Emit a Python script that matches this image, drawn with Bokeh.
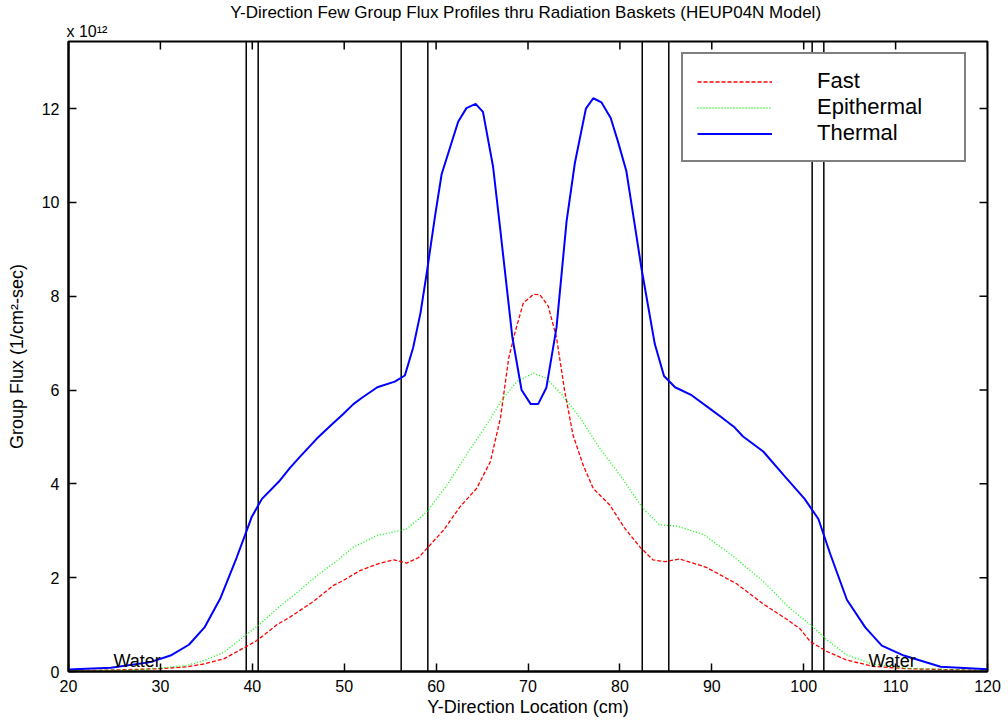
import math
from bokeh.plotting import figure
from bokeh.models import Legend, LegendItem, Label, Range1d, FixedTicker, Title
from bokeh.embed import file_html
from bokeh.resources import INLINE

# ---------------- data (flux in units of 1e12 1/cm^2-sec) ----------------
thermal_x = [20, 24.6, 28.9, 31.1, 33.1, 34.8, 36.5, 38.3, 39.2, 39.95, 41.05, 42.9, 44.1, 45.2,
             47.0, 48.5, 49.9, 51.0, 51.9, 53.6, 55.5, 56.6, 57.5, 58.3, 59.0, 59.9, 60.6, 62.4,
             63.3, 64.3, 65.1, 66.2, 66.96, 68.3, 69.3, 70.3, 71.1, 72.0, 73.1, 74.2, 75.1, 76.3,
             77.1, 78.0, 79.0, 79.8, 80.7, 81.45, 82.35, 83.8, 84.8, 86.0, 87.8, 89.6, 91.05, 92.5,
             93.4, 95.6, 97.8, 100.1, 101.6, 102.9, 104.7, 106.7, 108.5, 110.9, 114.9, 120]
thermal_y = [0.04, 0.08, 0.2, 0.34, 0.57, 0.94, 1.55, 2.43, 2.9, 3.3, 3.68, 4.05, 4.34, 4.58,
             4.96, 5.24, 5.49, 5.7, 5.83, 6.06, 6.18, 6.31, 6.9, 7.64, 8.52, 9.73, 10.6, 11.72,
             12.01, 12.1, 11.93, 10.76, 9.46, 7.12, 6.0, 5.7, 5.7, 6.05, 7.33, 9.6, 10.84, 12.0,
             12.22, 12.13, 11.8, 11.29, 10.67, 9.73, 8.59, 6.98, 6.3, 6.06, 5.89, 5.63, 5.42, 5.2,
             5.01, 4.69, 4.19, 3.68, 3.25, 2.5, 1.53, 0.94, 0.55, 0.34, 0.1, 0.05]

fast_x = [20, 26.4, 30, 32.9, 34.7, 36.9, 39.24, 40.5, 42.7, 44.1, 46.7, 48.8, 49.9, 51.7, 53.6,
          55.4, 56.8, 58.1, 60.8, 62.6, 64.4, 65.9, 67.0, 67.9, 68.6, 69.5, 70.6, 71.3, 72.2, 73.1,
          74.0, 74.9, 76.0, 77.1, 78.9, 80.5, 82.2, 83.6, 84.9, 86.5, 89.4, 92.7, 95.6, 98.1, 99.6,
          100.7, 102.5, 104.6, 107.5, 111.2, 120]
fast_y = [0.01, 0.04, 0.06, 0.1, 0.16, 0.27, 0.52, 0.66, 1.0, 1.16, 1.5, 1.83, 1.94, 2.15, 2.29,
          2.38, 2.31, 2.43, 3.01, 3.51, 3.9, 4.47, 5.4, 6.68, 7.24, 7.86, 8.04, 8.03, 7.79, 7.12,
          5.97, 5.04, 4.4, 3.9, 3.55, 3.06, 2.65, 2.38, 2.34, 2.4, 2.22, 1.87, 1.44, 1.12, 0.91,
          0.64, 0.43, 0.25, 0.11, 0.06, 0.02]

epi_x = [20, 28.1, 32.9, 34.7, 36.9, 39.24, 40.9, 42.7, 44.9, 47.0, 49.2, 51.0, 53.6, 55.7, 56.8,
         58.1, 59.0, 61.2, 63.3, 65.5, 67.3, 68.8, 70.6, 72.0, 73.7, 75.7, 77.8, 80.0, 82.5, 84.3,
         86.2, 89.1, 92.3, 95.6, 98.5, 100.7, 102.5, 104.6, 107.5, 111.2, 120]
epi_y = [0.01, 0.04, 0.13, 0.23, 0.41, 0.77, 1.02, 1.34, 1.69, 2.04, 2.36, 2.65, 2.9, 2.99, 3.04,
         3.25, 3.41, 3.98, 4.62, 5.26, 5.83, 6.18, 6.36, 6.25, 5.9, 5.4, 4.76, 4.19, 3.48, 3.13,
         3.1, 2.92, 2.46, 1.92, 1.35, 1.0, 0.68, 0.36, 0.16, 0.07, 0.02]

# radiation basket boundaries (cm)
basket_x = [39.34, 40.64, 56.2, 59.1, 82.43, 85.32, 100.92, 102.19]

x_ticks = [20, 30, 40, 50, 60, 70, 80, 90, 100, 110, 120]
y_ticks = [0, 2, 4, 6, 8, 10, 12]
x_min, x_max = 20, 120
y_min, y_max = 0, 13.43

series_names = ["Fast", "Epithermal", "Thermal"]
water_labels = [("Water", 24.9, 0.23), ("Water", 107.05, 0.23)]
title_text = "Y-Direction Few Group Flux Profiles  thru Radiation Baskets (HEUP04N Model)"
exponent_text = "x 10\u00b9\u00b2"

FONT = "Liberation Sans"

p = figure(width=1008, height=726, output_backend="svg", toolbar_location=None,
           x_range=Range1d(x_min, x_max), y_range=Range1d(y_min, y_max),
           min_border_left=68, min_border_right=21, min_border_top=41, min_border_bottom=55,
           title=None)
p.grid.visible = False
p.outline_line_color = "black"
p.outline_line_width = 2
p.background_fill_color = "white"
p.border_fill_color = "white"

# titles above the frame (first added sits nearest the frame)
p.add_layout(Title(text=exponent_text, align="left", text_font=FONT, text_font_size="16px",
                   text_font_style="normal", text_color="black", standoff=4, offset=-2), "above")
p.add_layout(Title(text=title_text, align="center", text_font=FONT, text_font_size="17px",
                   text_font_style="normal", text_color="black", standoff=-7), "above")

# basket boundary lines
p.segment(x0=basket_x, y0=[y_min] * len(basket_x), x1=basket_x, y1=[y_max] * len(basket_x),
          line_color="black", line_width=1.5)

r_fast = p.line(fast_x, fast_y, line_color="#ff0000", line_width=1.3, line_dash="4 2")
r_epi = p.line(epi_x, epi_y, line_color="#00ff00", line_width=1.3, line_dash="1 2")
r_th = p.line(thermal_x, thermal_y, line_color="#0000ff", line_width=2)

# inward ticks on top and right edges (box style)
p.ray(x=x_ticks, y=[y_max] * len(x_ticks), length=8, length_units="screen",
      angle=-math.pi / 2, line_color="black", line_width=1.5)
p.ray(x=[x_max] * len(y_ticks), y=y_ticks, length=8, length_units="screen",
      angle=math.pi, line_color="black", line_width=1.5)

# bottom / left axes
xb = p.xaxis[0]
yl = p.yaxis[0]
xb.ticker = FixedTicker(ticks=x_ticks)
yl.ticker = FixedTicker(ticks=y_ticks)
for ax in (xb, yl):
    ax.major_tick_in = 8
    ax.major_tick_out = 0
    ax.minor_tick_line_color = None
    ax.axis_line_color = "black"
    ax.axis_line_width = 2
    ax.major_tick_line_color = "black"
    ax.major_tick_line_width = 1.5
    ax.major_label_text_font = FONT
    ax.major_label_text_color = "black"
    ax.major_label_text_font_size = "16px"
    ax.axis_label_text_font = FONT
    ax.axis_label_text_font_style = "normal"
    ax.axis_label_text_color = "black"
    ax.axis_label_text_font_size = "18px"

xb.axis_label = "Y-Direction Location (cm)"
xb.major_label_standoff = 8
xb.axis_label_standoff = 2
yl.axis_label = "Group Flux (1/cm²-sec)"
yl.major_label_standoff = 9
yl.axis_label_standoff = 12

# legend
legend = Legend(items=[LegendItem(label=series_names[0], renderers=[r_fast]),
                       LegendItem(label=series_names[1], renderers=[r_epi]),
                       LegendItem(label=series_names[2], renderers=[r_th])],
                location=(613, 509), orientation="vertical")
legend.label_text_font = FONT
legend.label_text_font_size = "22px"
legend.label_text_color = "black"
legend.glyph_width = 75
legend.glyph_height = 25
legend.label_height = 25
legend.label_width = 133
legend.label_standoff = 45
legend.padding = 14
legend.spacing = 0
legend.margin = 0
legend.border_line_color = "black"
legend.border_line_width = 2
legend.background_fill_color = "white"
legend.background_fill_alpha = 1
p.add_layout(legend)

# in-plot texts
for txt, wx, wy in water_labels:
    p.add_layout(Label(x=wx, y=wy, text=txt, text_font=FONT, text_font_size="18px",
                       text_color="black", text_baseline="alphabetic", text_align="left"))

open("out.html", "w").write(file_html(p, INLINE))
